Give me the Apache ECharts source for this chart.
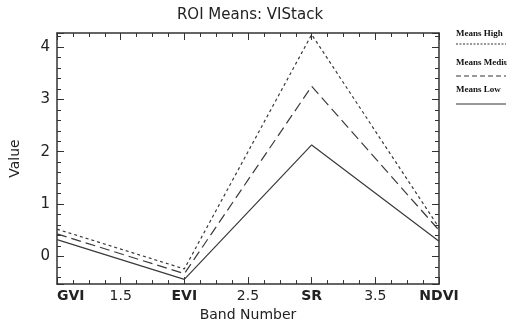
<!DOCTYPE html>
<html>
<head>
<meta charset="utf-8">
<script src="https://cdn.jsdelivr.net/npm/echarts@6/dist/echarts.min.js"></script>
<style>html,body{margin:0;padding:0;background:#fff}#c{width:507px;height:327px}</style>
</head>
<body>
<div id="c"></div>
<script>
const bands = ['GVI', 'EVI', 'SR', 'NDVI'];
const bandPos = [1, 2, 3, 4];
const meansHigh = [0.52, -0.24, 4.24, 0.55];
const meansMedium = [0.43, -0.33, 3.25, 0.50];
const meansLow = [0.32, -0.44, 2.13, 0.29];
const seriesNames = ['Means High', 'Means Medium', 'Means Low'];
const seriesData = [meansHigh, meansMedium, meansLow];
const dashTypes = [[3, 3], [10, 5], 'solid'];

const chart = echarts.init(document.getElementById('c'), null, {renderer: 'canvas'});
const font = 'DejaVu Sans';
const axisCol = '#333';

const xLabel = v => {
  const i = bandPos.indexOf(v);
  return i >= 0 ? '{b|' + bands[i] + '}' : '{n|' + v + '}';
};

const series = seriesNames.map((n, k) => ({
  name: n,
  type: 'line',
  symbol: 'none',
  data: bandPos.map((x, i) => [x, seriesData[k][i]]),
  lineStyle: {color: '#3a3a3a', width: 1.2, type: dashTypes[k]},
  animation: false
}));

const legendY = [[35, 44], [64, 76], [91, 104]];
const graphic = [];
seriesNames.forEach((n, k) => {
  graphic.push({type: 'text', left: 456, top: legendY[k][0] - 6,
    style: {text: n, font: 'bold 9px "Liberation Serif"', fill: '#111'}});
  graphic.push({type: 'line', shape: {x1: 456, y1: legendY[k][1], x2: 506, y2: legendY[k][1]},
    style: {stroke: '#333', lineWidth: 1, lineDash: dashTypes[k] === 'solid' ? null : (k === 0 ? [2, 1.5] : [5, 3])}});
});

const xCommon = {
  type: 'value', min: 1, max: 4, interval: 0.5,
  axisLine: {show: true, onZero: false, lineStyle: {color: axisCol, width: 1.5}},
  axisTick: {show: true, inside: true, length: 7, lineStyle: {color: axisCol}},
  minorTick: {show: true, splitNumber: 4, length: 4, lineStyle: {color: axisCol}},
  splitLine: {show: false}
};
const yCommon = {
  type: 'value', min: -0.53, max: 4.27, splitNumber: 5,
  axisLine: {show: true, onZero: false, lineStyle: {color: axisCol, width: 1.5}},
  axisTick: {show: true, inside: true, length: 7, lineStyle: {color: axisCol}},
  minorTick: {show: true, splitNumber: 5, length: 4, lineStyle: {color: axisCol}},
  splitLine: {show: false}
};

chart.setOption({
  backgroundColor: '#fff',
  animation: false,
  title: {text: 'ROI Means: VIStack', left: 245, textAlign: 'center', top: 3,
    textStyle: {fontFamily: font, fontSize: 15, fontWeight: 'normal', color: '#222'}},
  grid: {left: 52, right: 68, top: 33, bottom: 32},
  xAxis: [
    Object.assign({}, xCommon, {
      position: 'bottom',
      name: 'Band Number', nameLocation: 'middle', nameGap: 17,
      nameTextStyle: {fontFamily: font, fontSize: 14, color: '#222'},
      axisLabel: {margin: 5, formatter: xLabel, alignMinLabel: 'left',
        rich: {b: {fontFamily: font, fontSize: 14, fontWeight: 'bold', color: '#222'},
               n: {fontFamily: font, fontSize: 14, color: '#222'}}}
    }),
    Object.assign({}, xCommon, {position: 'top', axisLabel: {show: false}})
  ],
  yAxis: [
    Object.assign({}, yCommon, {
      position: 'left',
      name: 'Value', nameLocation: 'middle', nameGap: 35, nameRotate: 90,
      nameTextStyle: {fontFamily: font, fontSize: 14, color: '#222'},
      axisLabel: {margin: 7, showMinLabel: false, showMaxLabel: false,
        fontFamily: font, fontSize: 15, color: '#222'}
    }),
    Object.assign({}, yCommon, {position: 'right', axisLabel: {show: false}})
  ],
  series: series,
  graphic: graphic
});
</script>
</body>
</html>
